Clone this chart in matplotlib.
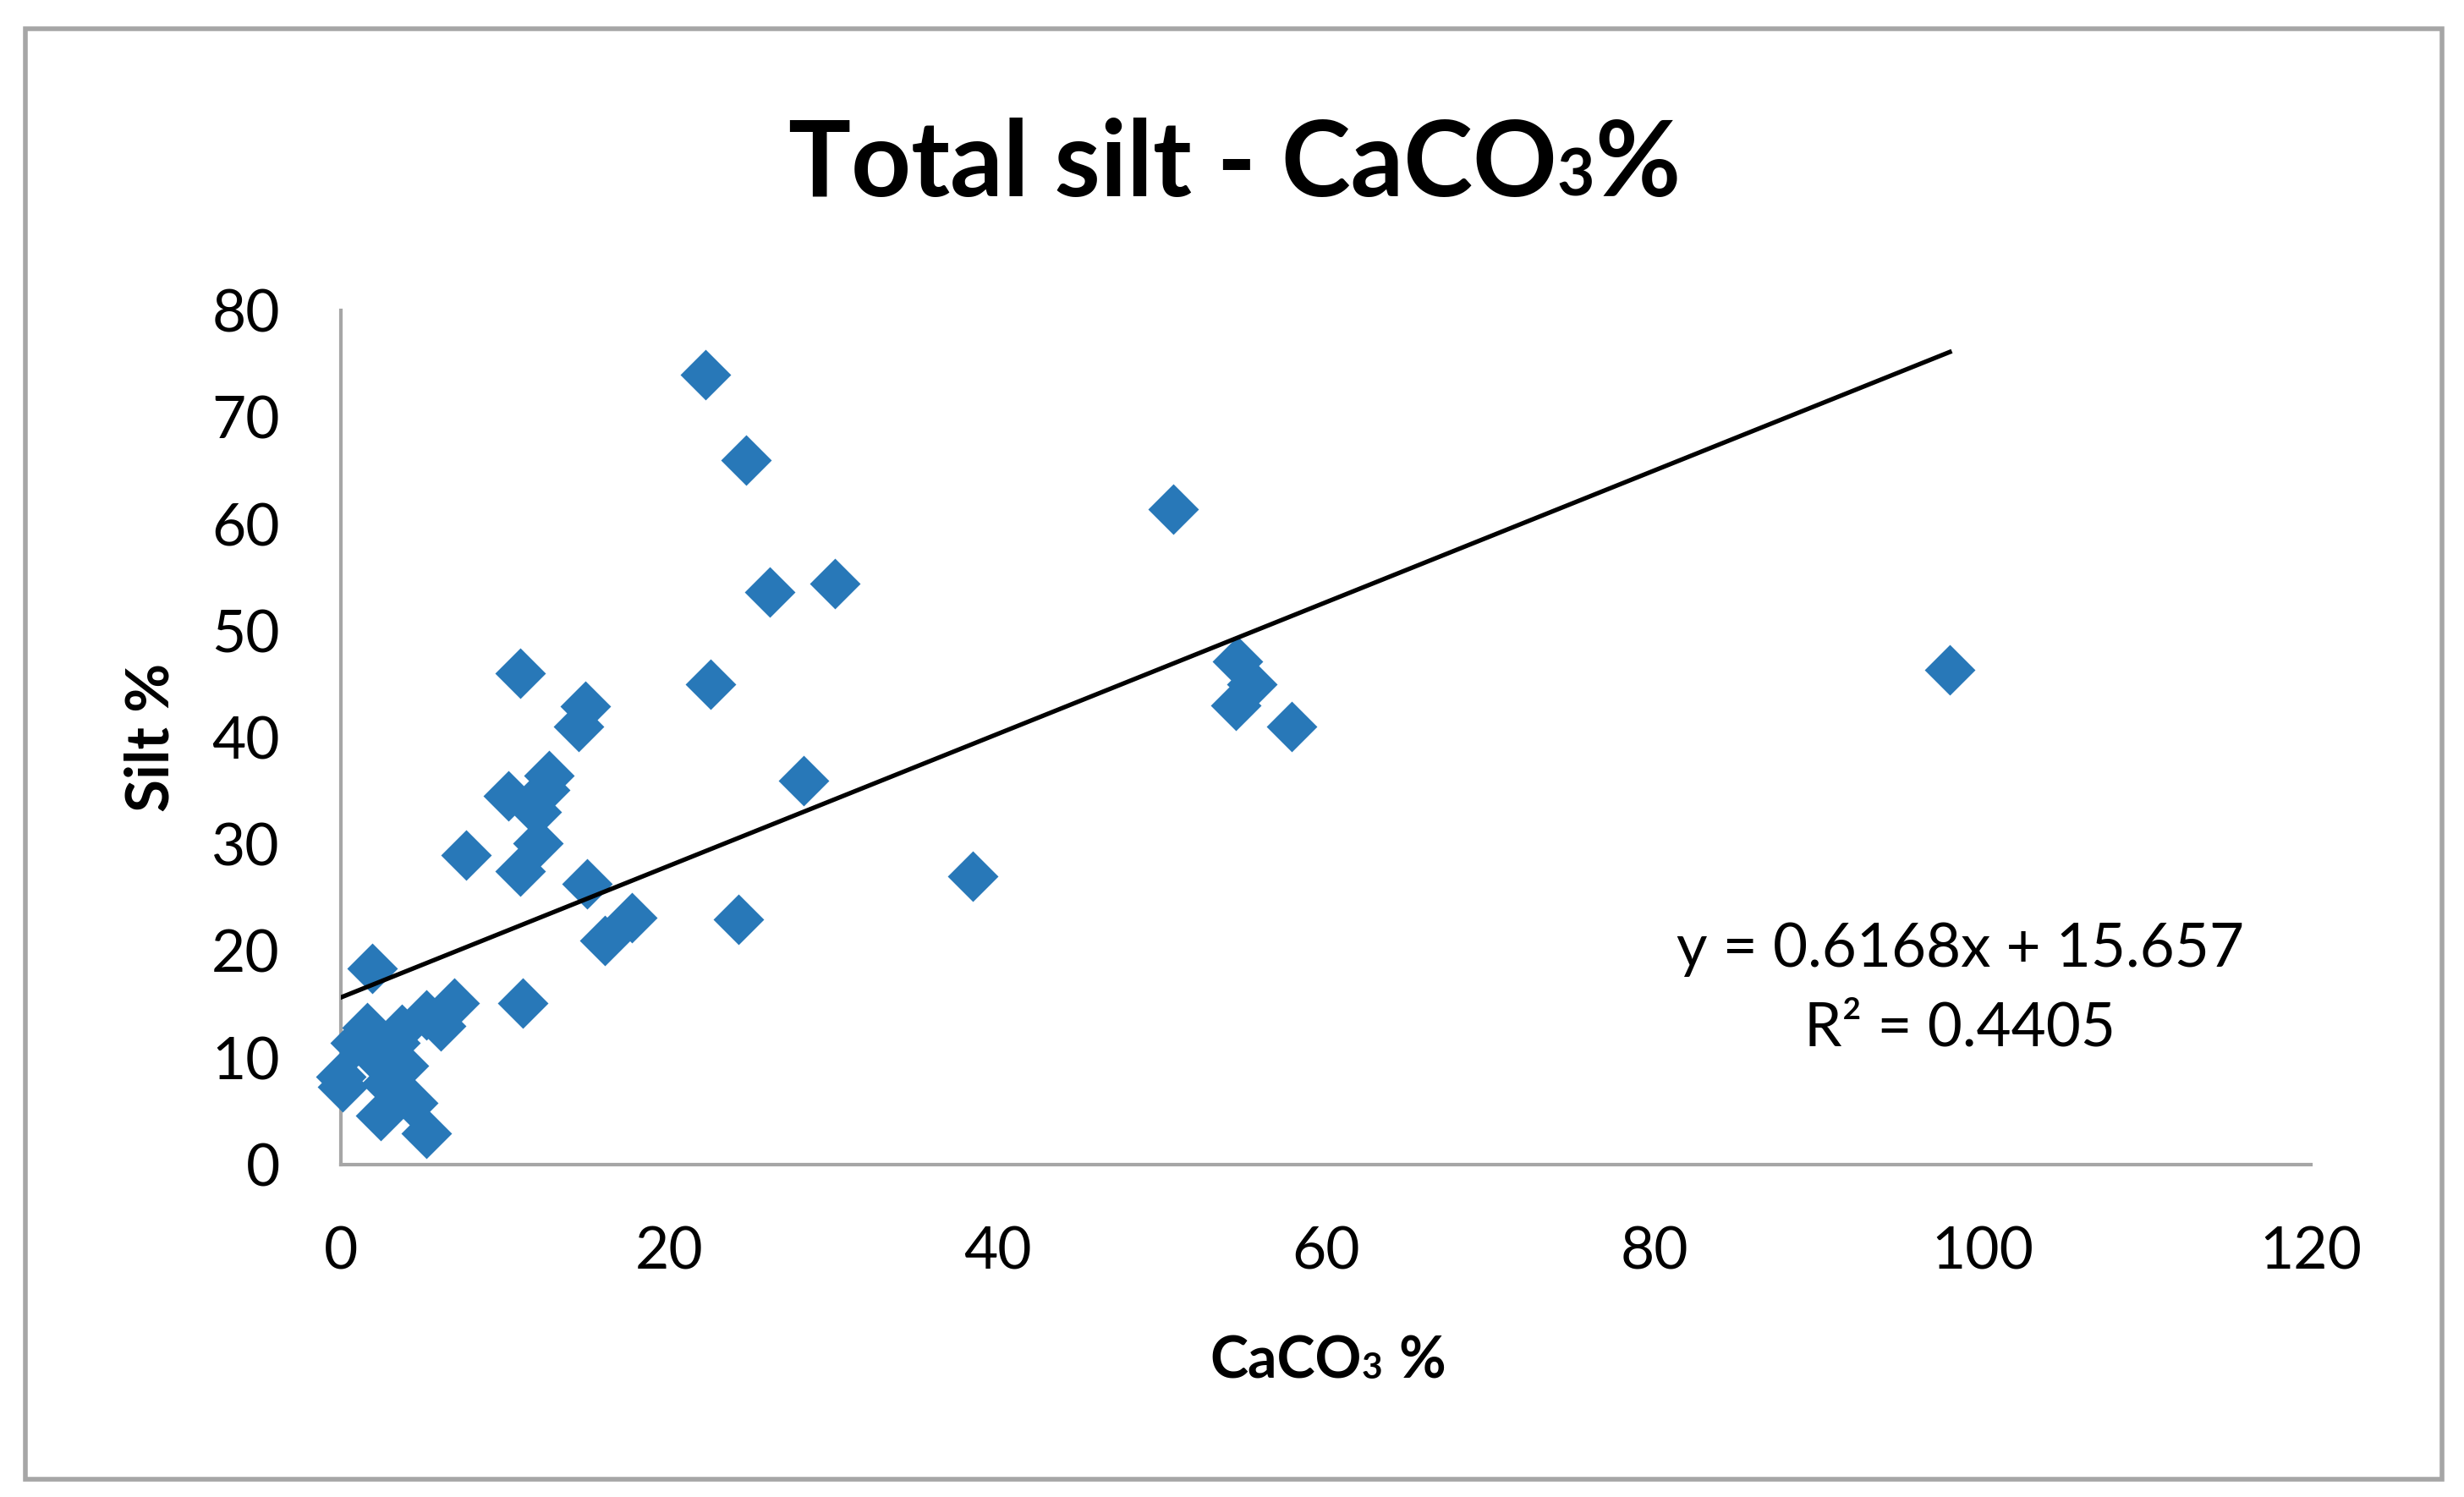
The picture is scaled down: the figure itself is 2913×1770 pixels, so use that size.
import matplotlib
matplotlib.use('Agg')
import matplotlib.pyplot as plt
import numpy as np
from matplotlib.patches import Rectangle

# ---------------- data ----------------
caco3 = [22.2, 24.7, 50.7, 30.1, 26.1, 10.9, 22.5, 98.0, 54.6, 55.5,
         54.5, 57.9, 14.9, 14.5, 12.7, 12.4, 10.2, 11.9, 12.0, 10.9,
         7.6, 28.2, 38.5, 15.0, 17.7, 16.1, 24.2, 1.9, 11.1, 6.9,
         6.1, 5.2, 3.7, 1.6, 0.9, 2.0, 3.8, 0.0, 0.1, 2.8,
         4.4, 2.4, 5.2, 3.3]
silt = [74.0, 66.0, 61.4, 54.4, 53.6, 46.0, 45.0, 46.3, 47.1, 45.0,
        43.0, 41.0, 42.9, 41.0, 36.4, 35.1, 34.5, 33.0, 30.1, 27.5,
        29.0, 36.0, 27.0, 26.3, 23.1, 21.0, 23.0, 18.4, 15.1, 15.1,
        13.0, 14.0, 12.7, 12.8, 11.4, 10.2, 9.3, 8.2, 7.3, 7.6,
        5.8, 4.6, 2.9, 11.4]
slope = 0.6168
intercept = 15.657
r_squared = 0.4405
x_ticks = [0, 20, 40, 60, 80, 100, 120]
y_ticks = [0, 10, 20, 30, 40, 50, 60, 70, 80]
title_parts = [("Total silt - CaCO", 1.0, 0.0), ("3", 0.62, 0.0), ("%", 1.0, 0.0)]
xlabel_parts = [("CaCO", 1.0, 0.0), ("3", 0.62, 0.0), ("%", 1.0, 0.28)]
ylabel = "Silt %"
eq_line1 = "y = %.4fx + %.3f" % (slope, intercept)
eq_line2 = "R\u00b2 = %.4f" % r_squared

# ---------------- style ----------------
plt.rcParams['font.family'] = ['Lato', 'DejaVu Sans']
W, H, DPI = 2913, 1770, 200
BLUE = '#2878b8'
GRAY = '#a6a6a6'

fig = plt.figure(figsize=(W / DPI, H / DPI), dpi=DPI)
fig.patch.set_facecolor('white')

# outer chart border
fig.add_artist(Rectangle((30 / W, 1 - 1749 / H), (2887 - 30) / W, (1749 - 34) / H,
                         transform=fig.transFigure, fill=False,
                         edgecolor=GRAY, linewidth=2.0))

ax = fig.add_axes([403 / W, 1 - 1377 / H, (2732 - 403) / W, (1377 - 367) / H])
ax.plot(caco3, silt, linestyle='none', marker='D', markersize=14.5,
        markerfacecolor=BLUE, markeredgecolor=BLUE, markeredgewidth=1.0,
        zorder=3, clip_on=False)

xs = np.array([min(caco3), max(caco3)])
ax.plot(xs, slope * xs + intercept, color='black', linewidth=1.9, zorder=4)

ax.set_xlim(x_ticks[0], x_ticks[-1])
ax.set_ylim(y_ticks[0], y_ticks[-1])
ax.set_xticks(x_ticks)
ax.set_yticks(y_ticks)
for s in ['top', 'right']:
    ax.spines[s].set_visible(False)
for s in ['left', 'bottom']:
    ax.spines[s].set_color(GRAY)
    ax.spines[s].set_linewidth(1.5)
ax.tick_params(axis='both', length=0, labelsize=25, colors='black')
ax.tick_params(axis='y', pad=26)
ax.tick_params(axis='x', pad=26)

# equation text
ax.text(0.822, 0.2317, eq_line1, transform=ax.transAxes, ha='center',
        va='baseline', fontsize=25.5)
ax.text(0.822, 0.1396, eq_line2, transform=ax.transAxes, ha='center',
        va='baseline', fontsize=25.5)

# y label
fig.text(211 / W, 1 - 872 / H, ylabel, rotation=90, ha='right', va='center',
         fontsize=25.5, fontweight='bold')


def draw_pieces(parts, cx_px, base_px, size):
    renderer = fig.canvas.get_renderer()
    items = []
    total = 0.0
    for s, scale, gap in parts:
        t = fig.text(0, 1 - base_px / H, s, fontsize=size * scale,
                     fontweight='bold', ha='left', va='baseline')
        w = t.get_window_extent(renderer).width
        g = gap * size * DPI / 72.0
        items.append((t, w, g))
        total += w + g
    x = cx_px - total / 2.0
    for t, w, g in items:
        x += g
        t.set_x(x / W)
        x += w


draw_pieces(title_parts, 1459, 232, 44.5)
draw_pieces(xlabel_parts, 1570, 1630, 24.5)

fig.savefig('out.png', dpi=DPI, facecolor='white')
